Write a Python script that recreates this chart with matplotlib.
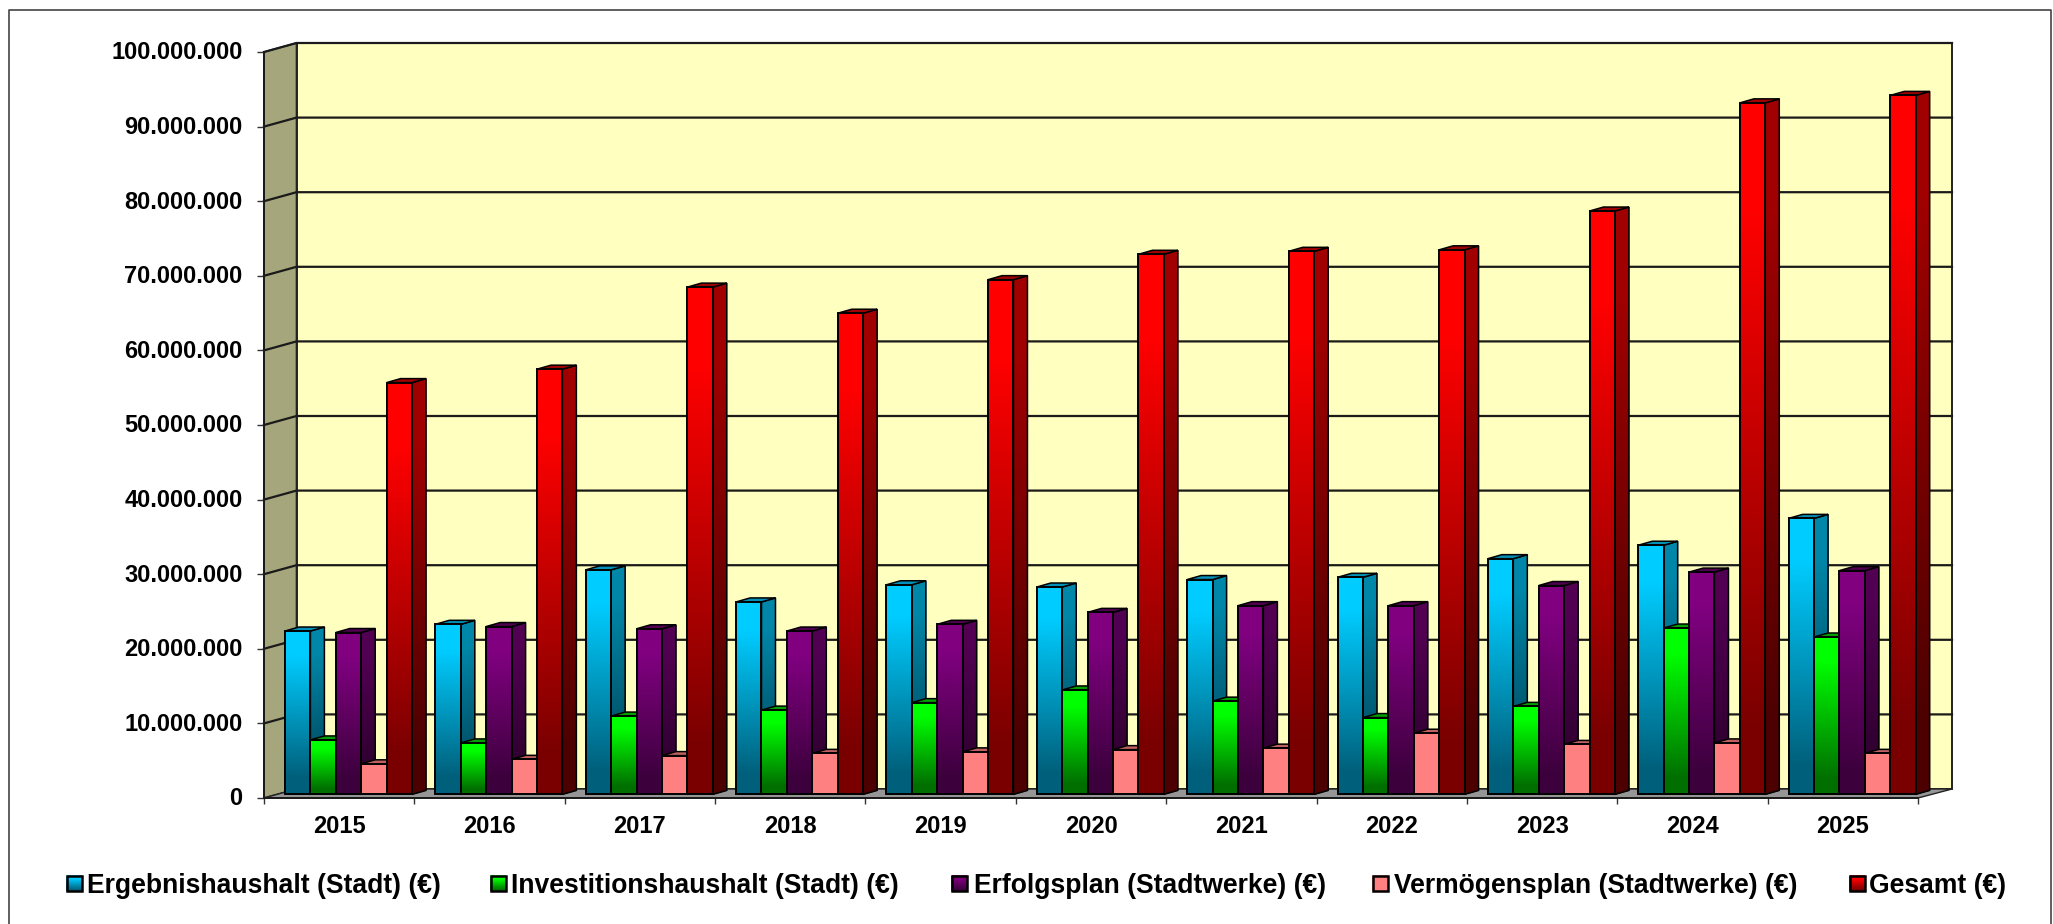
import matplotlib
matplotlib.use('Agg')
import matplotlib.pyplot as plt
from matplotlib.colors import LinearSegmentedColormap
from matplotlib.patches import Polygon, Rectangle
from matplotlib.ticker import FuncFormatter
from matplotlib.transforms import ScaledTranslation
import numpy as np

plt.rcParams['font.family'] = ['Liberation Sans', 'DejaVu Sans']
plt.rcParams['font.weight'] = 'bold'

years = ['2015', '2016', '2017', '2018', '2019', '2020', '2021', '2022', '2023', '2024', '2025']
ergebnis = [21.9, 22.8, 30.1, 25.8, 28.1, 27.8, 28.8, 29.1, 31.6, 33.4, 37.0]
invest = [7.3, 6.9, 10.5, 11.3, 12.3, 14.0, 12.5, 10.3, 11.8, 22.3, 21.1]
erfolg = [21.7, 22.5, 22.2, 21.9, 22.8, 24.4, 25.3, 25.3, 28.0, 29.8, 30.0]
vermoegen = [4.1, 4.7, 5.2, 5.5, 5.7, 6.0, 6.2, 8.2, 6.7, 6.9, 5.5]
gesamt = [55.2, 57.0, 68.0, 64.5, 69.0, 72.4, 72.8, 73.0, 78.2, 92.7, 93.7]
series_names = ['Ergebnishaushalt (Stadt) (€)', 'Investitionshaushalt (Stadt) (€)',
                'Erfolgsplan (Stadtwerke) (€)', 'Vermögensplan (Stadtwerke) (€)', 'Gesamt (€)']
series_values = [ergebnis, invest, erfolg, vermoegen, gesamt]

# (front top, front bottom, side top, side bottom, top face)
styles = [
    ('#00CCFF', '#005F7A', '#0086A8', '#004458', '#0090B8'),
    ('#00FF00', '#006F00', '#00A000', '#004800', '#00A000'),
    ('#800080', '#3C003C', '#520052', '#2C002C', '#520052'),
    ('#FF8080', '#FF8080', '#B05A5A', '#B05A5A', '#C06060'),
    ('#FF0000', '#7A0000', '#A00000', '#4C0000', '#A00000'),
]

fig = plt.figure(figsize=(20.53, 9.24), dpi=100, facecolor='white')

# pixel overlay for frame and legend
over = fig.add_axes([0, 0, 1, 1], zorder=5)
over.set_xlim(0, 2053)
over.set_ylim(924, 0)
over.axis('off')

ax = fig.add_axes([264 / 2053, (924 - 798) / 924, 1654 / 2053, 746 / 924])
ax.set_xlim(0, 11)
ax.set_ylim(0, 100)
ax.patch.set_visible(False)

px = 11 / 1654
py = 100 / 746
wall_dx = 32.5 * px
wall_dy = 9 * py
plane_dx = 21 * px
plane_dy = 3.6 * py
bar_w = 25.4 * px
side_dx = 14 * px
side_dy = 4 * py


def gradient(c_top, c_bot):
    return LinearSegmentedColormap.from_list('g', [(0, c_bot), (0.1, c_bot), (0.85, c_top), (1, c_top)])


def shade(target, xs, ys, cmap, z):
    # xs, ys: 2x2 corner arrays, row 0 bottom and row 1 top
    t = np.linspace(0, 1, 50)
    X = np.array([xs[0][0] + (xs[1][0] - xs[0][0]) * t, xs[0][1] + (xs[1][1] - xs[0][1]) * t]).T
    Y = np.array([ys[0][0] + (ys[1][0] - ys[0][0]) * t, ys[0][1] + (ys[1][1] - ys[0][1]) * t]).T
    C = np.tile(t, (2, 1)).T
    m = target.pcolormesh(X, Y, C, cmap=cmap, shading='gouraud', vmin=0, vmax=1, zorder=z)
    m.set_clip_on(False)


# walls and floor
right_back = 11 + wall_dx + 1.5 * px
ax.add_patch(Polygon([(0, 0), (0, 100), (wall_dx, 100 + wall_dy), (wall_dx, wall_dy)],
                     facecolor='#A6A67C', edgecolor='#222222', lw=1.2, clip_on=False, zorder=0.2))
ax.add_patch(Rectangle((wall_dx, wall_dy), right_back - wall_dx, 100, facecolor='#FFFFC0', edgecolor='#222222',
                       lw=1.4, clip_on=False, zorder=0.3))
ax.add_patch(Polygon([(0, 0), (wall_dx, wall_dy), (right_back, wall_dy), (11, 0)],
                     facecolor='#969696', edgecolor='#222222', lw=1.0, clip_on=False, zorder=0.4))
for v in range(10, 101, 10):
    ax.plot([0, wall_dx, right_back], [v, v + wall_dy, v + wall_dy], color='#1A1A1A', lw=1.6,
            clip_on=False, zorder=0.5)

# bars, left to right so each front face covers the side before it
z = 3
for i in range(len(years)):
    for s, values in enumerate(series_values):
        c_top, c_bot, side_top, side_bot, top_c = styles[s]
        x0 = i + plane_dx + s * bar_w
        x1 = x0 + bar_w
        y0 = plane_dy
        y1 = values[i] + plane_dy
        shade(ax, [[x1, x1 + side_dx], [x1, x1 + side_dx]], [[y0, y0 + side_dy], [y1, y1 + side_dy]],
              gradient(side_top, side_bot), z)
        ax.add_patch(Polygon([(x1, y0), (x1 + side_dx, y0 + side_dy), (x1 + side_dx, y1 + side_dy), (x1, y1)],
                             facecolor='none', edgecolor='black', lw=1.1, clip_on=False, zorder=z + 0.1))
        ax.add_patch(Polygon([(x0, y1), (x0 + side_dx, y1 + side_dy), (x1 + side_dx, y1 + side_dy), (x1, y1)],
                             facecolor=top_c, edgecolor='black', lw=1.1, clip_on=False, zorder=z + 0.2))
        shade(ax, [[x0, x1], [x0, x1]], [[y0, y0], [y1, y1]], gradient(c_top, c_bot), z + 0.3)
        ax.bar(x0, values[i], width=bar_w, bottom=y0, align='edge', facecolor='none', edgecolor='black',
               lw=1.4, clip_on=False, zorder=z + 0.4)
        z += 1

# axes
for name in ['top', 'right']:
    ax.spines[name].set_visible(False)
for name in ['left', 'bottom']:
    ax.spines[name].set_linewidth(1.4)
    ax.spines[name].set_color('#1A1A1A')
ax.set_xticks(range(12))
ax.set_xticklabels([])
ax.set_xticks(np.arange(len(years)) + 0.5, minor=True)
ax.set_xticklabels(years, minor=True, fontsize=17, fontweight='bold')
ax.tick_params(axis='x', which='major', length=4, width=1, color='#333333')
ax.tick_params(axis='x', which='minor', length=0, pad=12.3)
ax.set_yticks(range(0, 101, 10))
ax.yaxis.set_major_formatter(FuncFormatter(lambda v, pos: f'{int(v * 1000000):,}'.replace(',', '.')))
ax.tick_params(axis='y', length=5, width=1, color='#333333', pad=10.5, labelsize=17)
lift = ScaledTranslation(0, 1.6 / 100, fig.dpi_scale_trans)
for lab in ax.get_yticklabels():
    lab.set_fontweight('bold')
    lab.set_transform(lab.get_transform() + lift)

# frame
over.plot([9, 9, 2051, 2051], [930, 10, 10, 930], color='#444444', lw=1.2, clip_on=True)

# legend
swatch_x = [67, 491, 952, 1373, 1850]
text_x = [87, 511, 974, 1394, 1869]
for s, name in enumerate(series_names):
    sx = swatch_x[s]
    shade(over, [[sx, sx + 15], [sx, sx + 15]], [[891, 891], [876, 876]],
          gradient(styles[s][0], styles[s][1]), 6)
    over.add_patch(Rectangle((sx, 876), 15, 15, facecolor='none', edgecolor='black', lw=1.8, zorder=7))
    over.text(text_x[s], 883, name, fontsize=19.1, fontweight='bold', ha='left', va='center_baseline',
              color='black')

fig.savefig('out.png', dpi=100, facecolor='white')
